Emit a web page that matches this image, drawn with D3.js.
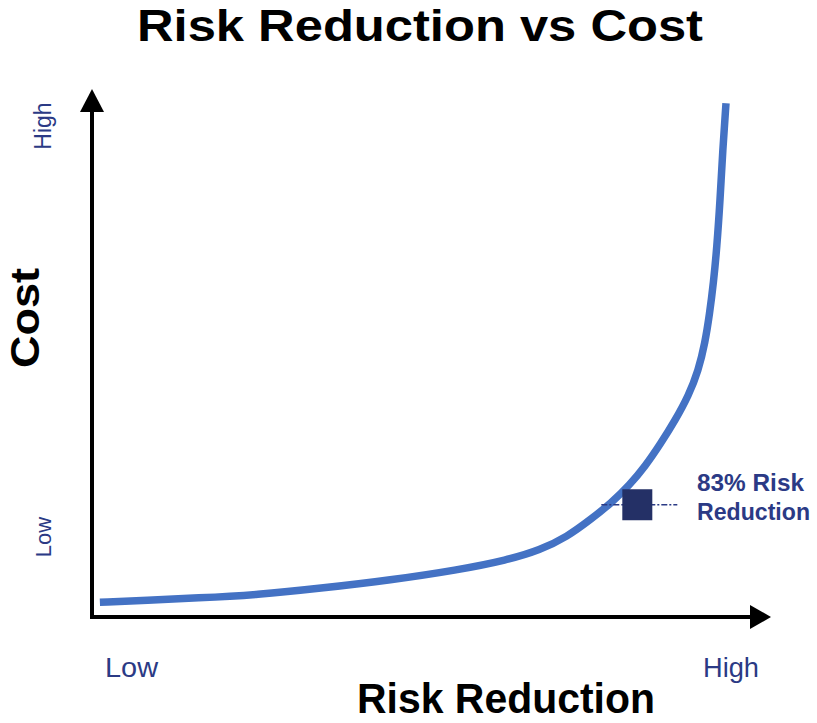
<!DOCTYPE html>
<html><head><meta charset="utf-8">
<script src="https://cdn.jsdelivr.net/npm/d3@7"></script>
<style>body{margin:0;background:#fff}svg{display:block}</style>
</head><body>
<svg id="c" width="817" height="723"></svg>
<script>
const riskReduction = [1.2, 8.4, 16.0, 25.1, 35.2, 45.4, 55.6, 63.2, 68.2, 72.3, 76.0, 79.0, 81.8, 84.2, 86.5, 88.8, 90.8, 92.3, 93.3, 94.0, 94.6, 95.1, 95.6, 96.0, 96.5];
const cost = [2.8, 3.2, 3.6, 4.2, 5.5, 7.0, 8.9, 10.8, 12.7, 15.2, 18.6, 21.6, 25.0, 28.6, 32.8, 37.4, 42.0, 46.8, 52.0, 57.5, 63.5, 70.0, 79.1, 88.6, 97.5];
const markerRisk = 83;
const markerCost = 21.3;
const markerLabel = ["83% Risk", "Reduction"];
const xTickLabels = ["Low", "High"];
const yTickLabels = ["Low", "High"];

const FONT = "Liberation Sans, Arial, sans-serif";
const svg = d3.select("#c");
const x = d3.scaleLinear().domain([0,100]).range([92,749]);
const y = d3.scaleLinear().domain([0,100]).range([617,90]);
const navy = "#2b3a85";

svg.append("text").attr("x",137).attr("y",41)
  .attr("font-family",FONT).attr("font-weight","bold")
  .attr("font-size",44).attr("textLength",566).attr("lengthAdjust","spacingAndGlyphs")
  .text("Risk Reduction vs Cost");

// axes
svg.append("line").attr("x1",x(0)).attr("y1",y(0)+2).attr("x2",x(0)).attr("y2",112).attr("stroke","#000").attr("stroke-width",4);
svg.append("path").attr("d",`M${x(0)-12},${112} L${x(0)},${89} L${x(0)+12},${112} Z`).attr("fill","#000");
svg.append("line").attr("x1",x(0)-2).attr("y1",y(0)).attr("x2",750).attr("y2",y(0)).attr("stroke","#000").attr("stroke-width",4);
svg.append("path").attr("d",`M750,${y(0)-12} L771,${y(0)} L750,${y(0)+12} Z`).attr("fill","#000");

const data = riskReduction.map((r,i)=>({r, c:cost[i]}));
const line = d3.line().x(d=>x(d.r)).y(d=>y(d.c)).curve(d3.curveBasis);
svg.append("path").datum(data).attr("d",line).attr("fill","none")
  .attr("stroke","#4472c4").attr("stroke-width",7.5).attr("stroke-linecap","butt");

// marker
const mx = x(markerRisk), my = y(markerCost);
svg.append("line").attr("x1",mx-36).attr("x2",mx+40).attr("y1",my).attr("y2",my)
  .attr("stroke",navy).attr("stroke-width",1.5).attr("stroke-dasharray","6,2,2,2");
svg.append("rect").attr("x",mx-15).attr("y",my-15.5).attr("width",30).attr("height",31).attr("fill","#243066");
svg.append("text").attr("font-family",FONT)
  .attr("font-weight","bold").attr("font-size",24).attr("fill",navy)
  .selectAll("tspan").data(markerLabel).join("tspan").attr("x",697).attr("y",(d,i)=>i?520:491)
  .attr("textLength",(d,i)=>i?113:107).attr("lengthAdjust","spacingAndGlyphs").text(d=>d);

// tick labels
svg.append("text").attr("x",105).attr("y",677).attr("font-family",FONT)
  .attr("font-size",27).attr("fill",navy).attr("textLength",53).attr("lengthAdjust","spacingAndGlyphs").text(xTickLabels[0]);
svg.append("text").attr("x",703).attr("y",677).attr("font-family",FONT)
  .attr("font-size",27).attr("fill",navy).attr("textLength",56).attr("lengthAdjust","spacingAndGlyphs").text(xTickLabels[1]);
svg.append("text").attr("transform","translate(51,537) rotate(-90)").attr("text-anchor","middle")
  .attr("font-family",FONT).attr("font-size",22).attr("fill",navy).text(yTickLabels[0]);
svg.append("text").attr("transform","translate(51,126) rotate(-90)").attr("text-anchor","middle")
  .attr("font-family",FONT).attr("font-size",23).attr("fill",navy).text(yTickLabels[1]);

// axis titles
svg.append("text").attr("x",357).attr("y",713)
  .attr("font-family",FONT).attr("font-weight","bold").attr("font-size",43)
  .attr("textLength",298).attr("lengthAdjust","spacingAndGlyphs").text("Risk Reduction");
svg.append("text").attr("transform","translate(39,318) rotate(-90)").attr("text-anchor","middle")
  .attr("font-family",FONT).attr("font-weight","bold").attr("font-size",41)
  .attr("textLength",100).attr("lengthAdjust","spacingAndGlyphs").text("Cost");
</script>
</body></html>
